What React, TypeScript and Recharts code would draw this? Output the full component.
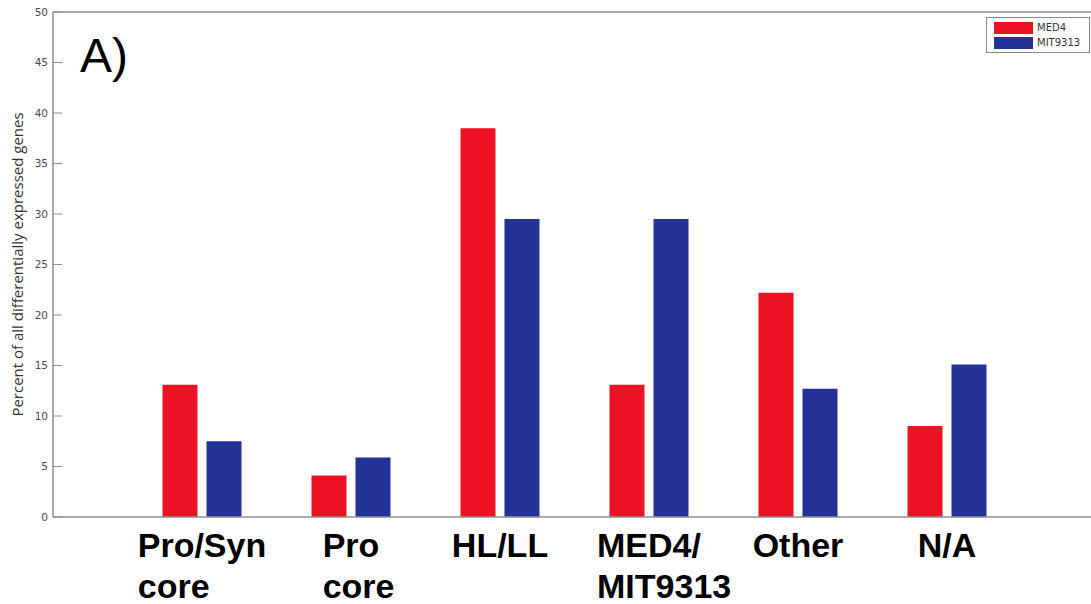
import React from 'react'
import { BarChart, Bar, XAxis, YAxis, ReferenceLine, Legend } from 'recharts'

// values (percent of all differentially expressed genes)
const categories = ['Pro/Syn\ncore', 'Pro\ncore', 'HL/LL', 'MED4/\nMIT9313', 'Other', 'N/A']
const med4 = [13.1, 4.1, 38.5, 13.1, 22.2, 9.0]
const mit9313 = [7.5, 5.9, 29.5, 29.5, 12.7, 15.1]
const yTicks = [0, 5, 10, 15, 20, 25, 30, 35, 40, 45, 50]

const COLORS = {
  med4: '#ED1224',
  mit: '#223296',
  axis: '#8f8f8f',
  tickText: '#4a4a4a',
}

const data = categories.map((name, i) => ({ name, MED4: med4[i], MIT9313: mit9313[i] }))

const LABEL_FONT = 'bold 34px "Liberation Sans", Arial, sans-serif'

let measureCtx: CanvasRenderingContext2D | null = null
function textWidth(s: string) {
  if (!measureCtx) measureCtx = document.createElement('canvas').getContext('2d')
  if (!measureCtx) return s.length * 18
  measureCtx.font = LABEL_FONT
  return measureCtx.measureText(s).width
}

// category labels: first line centred on the group, following lines aligned to it
function CategoryTick(props: any) {
  const { x, y, payload } = props
  const lines = String(payload.value).split('\n')
  const left = x - textWidth(lines[0]) / 2
  return (
    <text
      x={left}
      y={y + 40}
      textAnchor="start"
      style={{ font: LABEL_FONT }}
      fill="#000"
    >
      {lines.map((l, i) => (
        <tspan key={i} x={left} dy={i === 0 ? 0 : 41}>{l}</tspan>
      ))}
    </text>
  )
}

// matlab style: numbers outside, tick marks pointing into the plot
function LeftTick(props: any) {
  const { x, y, payload } = props
  return (
    <g>
      <line x1={x + 5} x2={x + 14} y1={y} y2={y} stroke={COLORS.axis} strokeWidth={1} />
      <text
        x={x}
        y={y}
        dy={3.5}
        textAnchor="end"
        fontSize={10.5}
        fontFamily='"DejaVu Sans", sans-serif'
        fill={COLORS.tickText}
      >
        {payload.value}
      </text>
    </g>
  )
}

function LegendBox({ payload }: any) {
  return (
    <div
      style={{
        border: '1px solid #8a8a8a',
        background: '#fff',
        padding: '2px 4px 2px 7px',
        fontFamily: '"DejaVu Sans", sans-serif',
        fontSize: 10,
        color: '#333',
        lineHeight: '15px',
      }}
    >
      {(payload || []).map((p: any) => (
        <div key={p.value} style={{ display: 'flex', alignItems: 'center' }}>
          <span style={{ display: 'inline-block', width: 39, height: 12, background: p.color, marginRight: 4 }} />
          {p.value}
        </div>
      ))}
    </div>
  )
}

export default function App() {
  return (
    <div
      style={{
        position: 'absolute',
        left: 0,
        top: 0,
        width: 1091,
        height: 604,
        overflow: 'hidden',
        background: '#fff',
      }}
    >
      <BarChart
        width={1100}
        height={604}
        data={data}
        margin={{ top: 12, right: 4, left: 0, bottom: 0 }}
        barSize={35}
        barGap={9}
      >
        <XAxis
          dataKey="name"
          height={87}
          padding={{ left: 74.5, right: 74.5 }}
          axisLine={{ stroke: COLORS.axis, strokeWidth: 1.5 }}
          tickLine={false}
          tickSize={0}
          tickMargin={0}
          interval={0}
          tick={<CategoryTick />}
        />
        <YAxis
          width={53}
          domain={[0, 50]}
          ticks={yTicks}
          allowDataOverflow
          axisLine={{ stroke: COLORS.axis, strokeWidth: 1.5 }}
          tickLine={false}
          tickSize={0}
          tickMargin={5}
          tick={<LeftTick />}
          label={{
            value: 'Percent of all differentially expressed genes',
            angle: -90,
            position: 'insideLeft',
            offset: 0,
            dx: 18,
            style: {
              textAnchor: 'middle',
              fontFamily: '"Open Sans", sans-serif',
              fontSize: 15,
              fill: '#333',
            },
          }}
        />
        <YAxis
          yAxisId="right"
          orientation="right"
          width={0}
          mirror
          domain={[0, 50]}
          ticks={yTicks}
          axisLine={{ stroke: COLORS.axis, strokeWidth: 1.5 }}
          tickLine={{ stroke: COLORS.axis }}
          tickSize={9}
          tickFormatter={() => ''}
        />
        <ReferenceLine y={50} stroke={COLORS.axis} strokeWidth={1.5} />
        <Legend
          layout="vertical"
          align="center"
          verticalAlign="middle"
          content={<LegendBox />}
          wrapperStyle={{ position: 'absolute', left: 986, top: 17, width: 104, height: 'auto' }}
        />
        <Bar dataKey="MED4" fill={COLORS.med4} isAnimationActive={false} />
        <Bar dataKey="MIT9313" fill={COLORS.mit} isAnimationActive={false} />
      </BarChart>
      <div
        style={{
          position: 'absolute',
          left: 80,
          top: 26,
          fontFamily: '"Liberation Sans", Arial, sans-serif',
          fontSize: 48,
          lineHeight: '60px',
          color: '#000',
        }}
      >
        A)
      </div>
    </div>
  )
}
